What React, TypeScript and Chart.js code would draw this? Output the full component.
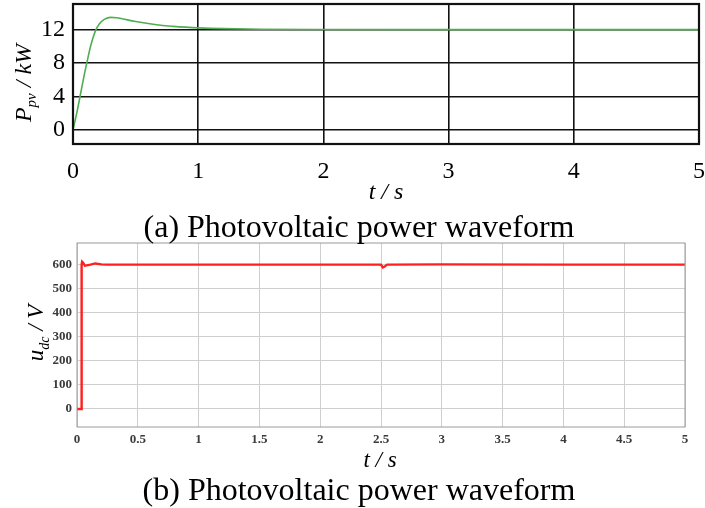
import React, { useEffect, useRef } from "react";
import { Chart, registerables } from "chart.js";

Chart.register(...registerables);

// ---- Data: (a) photovoltaic power ----
const T_PV = [0, 0.03, 0.06, 0.09, 0.11, 0.14, 0.18, 0.21, 0.25, 0.3, 0.35, 0.4, 0.5, 0.6, 0.7, 0.8, 0.9, 1.0, 1.2, 1.5, 2, 3, 4, 5];
const P_PV = [0, 2.0, 4.3, 6.6, 8.0, 10.0, 11.9, 12.7, 13.25, 13.5, 13.45, 13.3, 13.0, 12.75, 12.55, 12.42, 12.32, 12.24, 12.14, 12.07, 12.04, 12.03, 12.03, 12.03];
const X_TICKS_A = [0, 1, 2, 3, 4, 5];
const Y_TICKS_A = [0, 4, 8, 12];

// ---- Data: (b) DC-link voltage ----
const T_DC = [0, 0.035, 0.038, 0.042, 0.05, 0.065, 0.08, 0.11, 0.15, 0.2, 0.25, 1.0, 2.0, 2.5, 2.515, 2.53, 2.55, 3.0, 4.0, 5.0];
const U_DC = [0, 0, 600, 612, 608, 596, 597, 600, 605, 601, 600, 600, 600, 600, 588, 592, 600, 601, 600, 600];
const X_TICKS_B = [0, 0.5, 1, 1.5, 2, 2.5, 3, 3.5, 4, 4.5, 5];
const Y_TICKS_B = [0, 100, 200, 300, 400, 500, 600];

const CAPTION_A = "(a) Photovoltaic power waveform";
const CAPTION_B = "(b) Photovoltaic power waveform";

const SERIF = "'Liberation Serif', 'Times New Roman', serif";

function framePlugin(color: string, width: number) {
  return {
    id: "frame",
    afterDraw(chart: any) {
      const { ctx, chartArea } = chart;
      ctx.save();
      ctx.strokeStyle = color;
      ctx.lineWidth = width;
      ctx.strokeRect(chartArea.left, chartArea.top, chartArea.right - chartArea.left, chartArea.bottom - chartArea.top);
      ctx.restore();
    },
  };
}

export default function App() {
  const refA = useRef<HTMLCanvasElement>(null);
  const refB = useRef<HTMLCanvasElement>(null);

  useEffect(() => {
    document.body.style.margin = "0";
    const chartA = new Chart(refA.current!, {
      type: "line",
      data: {
        datasets: [
          {
            data: T_PV.map((t, i) => ({ x: t, y: P_PV[i] })),
            borderColor: "#4fae4f",
            borderWidth: 1.6,
            pointRadius: 0,
            cubicInterpolationMode: "monotone",
            fill: false,
          },
        ],
      },
      options: {
        responsive: false,
        animation: false,
        devicePixelRatio: 1,
        layout: { padding: { top: 4, right: 6, left: 0, bottom: 0 } },
        plugins: { legend: { display: false }, tooltip: { enabled: false } },
        scales: {
          x: {
            type: "linear",
            min: 0,
            max: 5,
            afterBuildTicks: (s: any) => {
              s.ticks = X_TICKS_A.map((v) => ({ value: v }));
            },
            afterFit: (s: any) => {
              s.height = 56;
              s.paddingLeft = 0;
              s.paddingRight = 0;
            },
            ticks: {
              autoSkip: false,
              maxRotation: 0,
              padding: 13,
              color: "#000",
              font: { family: SERIF, size: 24 },
              callback: (v: any) => String(v),
            },
            grid: { color: "#111", lineWidth: 1.6, drawTicks: false },
            border: { display: false },
          },
          y: {
            type: "linear",
            min: -1.7,
            max: 15.1,
            afterBuildTicks: (s: any) => {
              s.ticks = Y_TICKS_A.map((v) => ({ value: v }));
            },
            afterFit: (s: any) => {
              s.width = 73;
              s.paddingTop = 0;
              s.paddingBottom = 0;
            },
            ticks: {
              padding: 8,
              color: "#000",
              font: { family: SERIF, size: 24 },
              callback: (v: any) => String(v),
            },
            grid: { color: "#111", lineWidth: 1.6, drawTicks: false },
            border: { display: false },
          },
        },
      },
      plugins: [framePlugin("#111", 2.2)],
    } as any);

    const chartB = new Chart(refB.current!, {
      type: "line",
      data: {
        datasets: [
          {
            data: T_DC.map((t, i) => ({ x: t, y: U_DC[i] })),
            borderColor: "#ff1f1f",
            borderWidth: 2.4,
            pointRadius: 0,
            tension: 0,
            fill: false,
          },
        ],
      },
      options: {
        responsive: false,
        animation: false,
        devicePixelRatio: 1,
        layout: { padding: { top: 3, right: 20, left: 0, bottom: 0 } },
        plugins: { legend: { display: false }, tooltip: { enabled: false } },
        scales: {
          x: {
            type: "linear",
            min: 0,
            max: 5,
            afterBuildTicks: (s: any) => {
              s.ticks = X_TICKS_B.map((v) => ({ value: v }));
            },
            afterFit: (s: any) => {
              s.height = 23;
              s.paddingLeft = 0;
              s.paddingRight = 0;
            },
            ticks: {
              autoSkip: false,
              maxRotation: 0,
              padding: 5,
              color: "#3a3a3a",
              font: { family: SERIF, size: 13, weight: "bold" },
              callback: (v: any) => String(v),
            },
            grid: { color: "#cfcfcf", lineWidth: 1, drawTicks: false },
            border: { display: false },
          },
          y: {
            type: "linear",
            min: -75,
            max: 690,
            afterBuildTicks: (s: any) => {
              s.ticks = Y_TICKS_B.map((v) => ({ value: v }));
            },
            afterFit: (s: any) => {
              s.width = 77;
              s.paddingTop = 0;
              s.paddingBottom = 0;
            },
            ticks: {
              padding: 5,
              color: "#3a3a3a",
              font: { family: SERIF, size: 13, weight: "bold" },
              callback: (v: any) => String(v),
            },
            grid: { color: "#cfcfcf", lineWidth: 1, drawTicks: false },
            border: { display: false },
          },
        },
      },
      plugins: [framePlugin("#9a9a9a", 1)],
    } as any);

    return () => {
      chartA.destroy();
      chartB.destroy();
    };
  }, []);

  const abs = (x: number, y: number, extra: React.CSSProperties = {}): React.CSSProperties => ({
    position: "absolute",
    left: x,
    top: y,
    transform: "translate(-50%, -50%)",
    whiteSpace: "nowrap",
    fontFamily: SERIF,
    color: "#000",
    lineHeight: 1,
    ...extra,
  });

  return (
    <div style={{ position: "absolute", left: 0, top: 0, width: 705, height: 508, background: "#fff", overflow: "hidden" }}>
      <canvas ref={refA} width={705} height={200} style={{ position: "absolute", left: 0, top: 0 }} />
      <canvas ref={refB} width={705} height={210} style={{ position: "absolute", left: 0, top: 240 }} />

      {/* axis titles (a) */}
      <div style={abs(25, 83, { transform: "translate(-50%, -50%) rotate(-90deg)", fontSize: 24, fontStyle: "italic" })}>
        P<sub style={{ fontSize: 15 }}>pv</sub> / kW
      </div>
      <div style={abs(386, 191, { fontSize: 24, fontStyle: "italic" })}>t / s</div>
      <div style={abs(359, 226, { fontSize: 32 })}>{CAPTION_A}</div>

      {/* axis titles (b) */}
      <div style={abs(38, 333, { transform: "translate(-50%, -50%) rotate(-90deg)", fontSize: 23, fontStyle: "italic" })}>
        u<sub style={{ fontSize: 14 }}>dc</sub> / V
      </div>
      <div style={abs(380, 459, { fontSize: 23, fontStyle: "italic" })}>t / s</div>
      <div style={abs(359, 489, { fontSize: 32 })}>{CAPTION_B}</div>
    </div>
  );
}
